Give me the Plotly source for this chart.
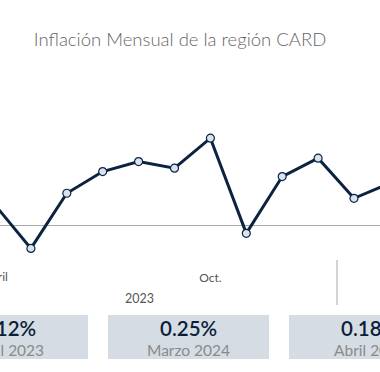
import plotly.graph_objects as go

# ---- data ----
months = ["Abr 2023", "May 2023", "Jun 2023", "Jul 2023", "Ago 2023", "Sep 2023",
          "Oct 2023", "Nov 2023", "Dic 2023", "Ene 2024", "Feb 2024", "Mar 2024", "Abr 2024"]
inflation = [0.12, -0.14, 0.19, 0.32, 0.38, 0.34, 0.52, -0.05, 0.29, 0.40, 0.16, 0.25, 0.18]
tick_idx = [0, 6]
tick_text = ["Abril", "Oct."]
year_label = "2023"
card_idx = [0, 11, 12]
card_labels = ["Abril 2023", "Marzo 2024", "Abril 2024"]

W, H = 380, 372
PT, PB = 100, 260  # plot area top/bottom in px

NAVY = "#0c2340"
FONT = "Lato"
step = 35.9
x0_px = -5  # pixel position of first month

x_idx = list(range(len(months)))

fig = go.Figure()
fig.add_trace(go.Scatter(
    x=x_idx, y=inflation, mode="lines+markers",
    line=dict(color=NAVY, width=3),
    marker=dict(size=8, color="#d9e3f0", line=dict(color=NAVY, width=1.2)),
    hoverinfo="skip", showlegend=False,
))

def py(p):
    return (PB - p) / (PB - PT)

def px(p):
    return p / W

shapes = []
annotations = []
# cards
card_centers = [7.5, 188.5, 369.5]
for c, i, lab in zip(card_centers, card_idx, card_labels):
    shapes.append(dict(type="rect", xref="paper", yref="paper",
                       x0=px(c - 80.5), x1=px(c + 80.5), y0=py(359), y1=py(315),
                       fillcolor="#d5dce4", line=dict(width=0), layer="below"))
    annotations.append(dict(xref="paper", yref="paper", x=px(c), y=py(328),
                            text=f"{inflation[i]:.2f}%", showarrow=False,
                            font=dict(family=FONT, size=20.5, color="#0c1f3a", weight=600),
                            xanchor="center", yanchor="middle"))
    annotations.append(dict(xref="paper", yref="paper", x=px(c), y=py(350),
                            text=lab, showarrow=False,
                            font=dict(family=FONT, size=15.5, color="#8a8a8a"),
                            xanchor="center", yanchor="middle"))

# tick label of first month (left of visible range)
annotations.append(dict(xref="paper", yref="paper", x=px(x0_px + tick_idx[0] * step), y=py(276),
                        text=tick_text[0], showarrow=False,
                        font=dict(family=FONT, size=12, color="#555"),
                        xanchor="center", yanchor="middle"))
# year label and separator
annotations.append(dict(xref="paper", yref="paper", x=px(139), y=py(298),
                        text=year_label, showarrow=False,
                        font=dict(family=FONT, size=12.5, color="#555"),
                        xanchor="center", yanchor="middle"))
shapes.append(dict(type="line", xref="paper", yref="paper",
                   x0=px(337), x1=px(337), y0=py(260), y1=py(305),
                   line=dict(color="#aaaaaa", width=1)))

fig.update_layout(
    width=W, height=H,
    margin=dict(l=0, r=0, t=PT, b=H - PB),
    paper_bgcolor="white", plot_bgcolor="white",
    title=dict(text="Inflación Mensual de la región CARD", x=px(180), xanchor="center",
               y=1 - 40 / H, yanchor="middle",
               font=dict(family=FONT, size=18.5, color="#666666", weight=300)),
    xaxis=dict(range=[-x0_px / step, (W - x0_px) / step], tickvals=tick_idx[1:], ticktext=tick_text[1:],
               showgrid=False, zeroline=False, showline=False,
               ticks="outside", ticklen=7, tickcolor="rgba(0,0,0,0)",
               tickfont=dict(family=FONT, size=12, color="#555")),
    yaxis=dict(range=[-(PB - 225) / 167, (225 - PT) / 167], showgrid=False,
               showticklabels=False, zeroline=True, zerolinecolor="#aaaaaa",
               zerolinewidth=1, showline=False),
    shapes=shapes, annotations=annotations,
)

fig.write_html("out.html", config={"displayModeBar": False},
               post_script="document.body.style.margin='0px';")
